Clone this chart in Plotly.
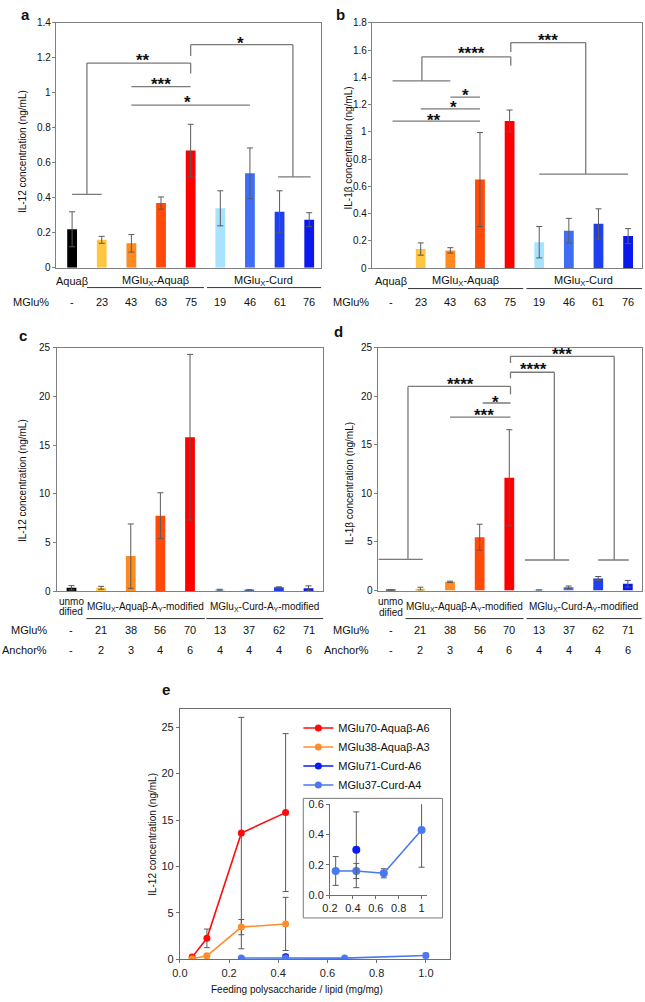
import plotly.graph_objects as go

W, H = 645, 1002
FONT = "Liberation Sans, Arial, sans-serif"


def fx(p):
    return p / W


def fy(p):
    return 1 - p / H


# ---------------- data ----------------
cats = list(range(9))
bar_colors = ["#000000", "#FFC640", "#FF8A1F", "#FF4A0A", "#FF0000",
              "#A8E2FF", "#3F6EF5", "#1F40F0", "#0A18EE"]

a_vals = [0.22, 0.16, 0.14, 0.37, 0.67, 0.34, 0.54, 0.32, 0.275]
a_errs = [0.10, 0.02, 0.05, 0.035, 0.15, 0.10, 0.145, 0.12, 0.04]
b_vals = [None, 0.14, 0.13, 0.65, 1.08, 0.19, 0.275, 0.325, 0.235]
b_errs = [None, 0.045, 0.02, 0.345, 0.08, 0.115, 0.09, 0.11, 0.055]
ab_mglu = ["-", "23", "43", "63", "75", "19", "46", "61", "76"]

c_vals = [0.35, 0.35, 3.6, 7.75, 15.8, 0.15, 0.1, 0.4, 0.3]
c_errs = [0.22, 0.15, 3.3, 2.35, 8.5, 0.05, 0.05, 0.05, 0.25]
d_vals = [0.05, 0.2, 0.9, 5.5, 11.6, 0.05, 0.35, 1.25, 0.7]
d_errs = [0.03, 0.15, 0.07, 1.33, 4.95, 0.03, 0.12, 0.2, 0.35]
cd_mglu = ["-", "21", "38", "56", "70", "13", "37", "62", "71"]
cd_anchor = ["-", "2", "3", "4", "6", "4", "4", "4", "6"]

a_ticks = [0, 0.2, 0.4, 0.6, 0.8, 1, 1.2, 1.4]
b_ticks = [0, 0.2, 0.4, 0.6, 0.8, 1, 1.2, 1.4, 1.6, 1.8]
cd_ticks = [0, 5, 10, 15, 20, 25]

# significance brackets: polylines (x list, y list) + star labels (x, y, text)
a_br_lines = [
    ([0, 1], [0.42, 0.42]),
    ([0.5, 0.5, 4, 4], [0.42, 1.17, 1.17, 1.11]),
    ([2, 4], [1.035, 1.035]),
    ([2, 6], [0.93, 0.93]),
    ([4, 4, 7.45, 7.45], [1.21, 1.275, 1.275, 0.52]),
    ([6.95, 8.05], [0.52, 0.52]),
]
a_br_text = [(2.4, 1.199, "**"), (3.0, 1.063, "***"), (3.9, 0.96, "*"), (5.67, 1.299, "*")]

b_br_lines = [
    ([0.05, 2], [1.374, 1.374]),
    ([1.04, 1.04, 4.04, 4.04], [1.374, 1.55, 1.55, 1.485]),
    ([4.04, 4.04, 6.57, 6.57], [1.586, 1.655, 1.655, 0.69]),
    ([5.0, 8.0], [0.69, 0.69]),
    ([2, 3], [1.255, 1.255]),
    ([1, 3], [1.168, 1.168]),
    ([0.05, 3], [1.078, 1.078]),
]
b_br_text = [(2.73, 1.599, "****"), (5.29, 1.69, "***"), (2.5, 1.292, "*"),
             (2.12, 1.2, "*"), (1.46, 1.103, "**")]

d_br_lines = [
    ([-0.42, 1.08], [3.22, 3.22]),
    ([0.58, 0.58, 4.04, 4.04], [3.22, 21.0, 21.0, 20.2]),
    ([3.1, 4.04], [19.3, 19.3]),
    ([2, 4.04], [17.85, 17.85]),
    ([4.04, 4.04, 5.52, 5.52], [21.85, 22.46, 22.46, 3.15]),
    ([4.53, 6.02], [3.15, 3.15]),
    ([4.04, 4.04, 7.54, 7.54], [23.4, 24.1, 24.1, 3.15]),
    ([7.0, 8.03], [3.15, 3.15]),
]
d_br_text = [(2.35, 21.5, "****"), (3.52, 19.7, "*"), (3.13, 18.36, "***"),
             (4.8, 23.0, "****"), (5.77, 24.6, "***")]

# panel e
e_x_a6 = [0.05, 0.11, 0.25, 0.43]
e_y_a6 = [0.25, 2.27, 13.6, 15.8]
e_err_a6 = [0.1, 1.0, 12.45, 8.5]
e_x_a3 = [0.05, 0.11, 0.25, 0.43]
e_y_a3 = [0.07, 0.39, 3.48, 3.82]
e_err_a3 = [0.05, 0.2, 0.82, 2.86]
e_x_c6 = [0.43]
e_y_c6 = [0.30]
e_err_c6 = [0.25]
e_x_c4 = [0.25, 0.43, 0.67, 1.0]
e_y_c4 = [0.16, 0.16, 0.145, 0.43]
e_err_c4 = [0.095, 0.05, 0.03, 0.245]

# ---------------- figure ----------------
fig = go.Figure()
ERR = dict(type="data", color="#5a5a5a", thickness=1, width=3, visible=True)


def add_bars(vals, errs, n):
    fig.add_trace(go.Bar(
        x=cats, y=vals, width=0.33, marker=dict(color=bar_colors, line=dict(width=0)),
        error_y=dict(array=errs, **ERR), showlegend=False,
        xaxis=f"x{n}" if n > 1 else "x", yaxis=f"y{n}" if n > 1 else "y"))


add_bars(a_vals, a_errs, 1)
add_bars(b_vals, b_errs, 2)
add_bars(c_vals, c_errs, 3)
add_bars(d_vals, d_errs, 4)

series_e = [
    ("MGlu70-Aquaβ-A6", e_x_a6, e_y_a6, e_err_a6, "#FF0A0A"),
    ("MGlu38-Aquaβ-A3", e_x_a3, e_y_a3, e_err_a3, "#FF8C2A"),
    ("MGlu71-Curd-A6", e_x_c6, e_y_c6, e_err_c6, "#0A1CF5"),
    ("MGlu37-Curd-A4", e_x_c4, e_y_c4, e_err_c4, "#4A78F2"),
]
for name, xs, ys, es, col in series_e:
    fig.add_trace(go.Scatter(
        x=xs, y=ys, name=name, mode="lines+markers",
        line=dict(color=col, width=1.6), marker=dict(color=col, size=7),
        error_y=dict(array=es, **ERR), xaxis="x5", yaxis="y5"))
for name, xs, ys, es, col in series_e[2:][::-1]:
    fig.add_trace(go.Scatter(
        x=xs, y=ys, name=name, mode="lines+markers", showlegend=False,
        line=dict(color=col, width=1.6), marker=dict(color=col, size=8),
        error_y=dict(array=es, **ERR), xaxis="x6", yaxis="y6"))

AX = "#808080"


def bar_axes(n, xpx, ypx, xr, yr):
    xa = dict(domain=[fx(xpx[0]), fx(xpx[1])], range=xr, showline=True, linecolor=AX,
              linewidth=1, mirror=True, showticklabels=False, ticks="", showgrid=False,
              zeroline=False, anchor="y" if n == 1 else f"y{n}")
    ya = dict(domain=[fy(ypx[1]), fy(ypx[0])], range=yr, showline=True,
              linecolor=AX, linewidth=1, mirror=True, ticks="outside", ticklen=3,
              tickcolor=AX, showgrid=False, zeroline=False, showticklabels=False,
              tickmode="array", anchor="x" if n == 1 else f"x{n}")
    return xa, ya


xa1, ya1 = bar_axes(1, (49, 317), (17, 265), [-0.53, 8.4], [0, 1.4])
xa2, ya2 = bar_axes(2, (369, 642), (17, 265.3), [-0.63, 8.47], [0, 1.8])
xa3, ya3 = bar_axes(3, (49.3, 319.3), (345.7, 592.3), [-0.5, 8.5], [0, 25])
xa4, ya4 = bar_axes(4, (375, 641.7), (345.7, 591.7), [-0.42, 8.47], [0, 25])
ya1["tickvals"] = a_ticks
ya2["tickvals"] = b_ticks
ya3["tickvals"] = cd_ticks
ya4["tickvals"] = cd_ticks

xa5 = dict(domain=[fx(174), fx(448)], range=[0, 1.1], dtick=0.2, tickformat=".1f",
           showline=True, linecolor="#6e6e6e", mirror=True, ticks="outside", ticklen=3,
           tickcolor="#6e6e6e", showgrid=False, zeroline=False,
           tickfont=dict(size=11, color="#222"), anchor="y5")
ya5 = dict(domain=[fy(965), fy(712)], range=[0, 26.9], dtick=5, showline=True,
           linecolor="#6e6e6e", mirror=True, ticks="outside", ticklen=3,
           tickcolor="#6e6e6e", showgrid=False, zeroline=False,
           tickfont=dict(size=11, color="#222"), anchor="x5")
xa6 = dict(domain=[fx(326), fx(424)], range=[0.2, 1.045], dtick=0.2, showline=True,
           linecolor="#6e6e6e", ticks="outside", ticklen=3, tickcolor="#6e6e6e",
           showgrid=False, zeroline=False, tickfont=dict(size=11, color="#222"),
           anchor="y6")
ya6 = dict(domain=[fy(900), fy(808)], range=[0, 0.6], dtick=0.2, tickformat=".1f",
           showline=True, linecolor="#6e6e6e", ticks="outside", ticklen=3,
           tickcolor="#6e6e6e", showgrid=False, zeroline=False,
           tickfont=dict(size=11, color="#222"), anchor="x6")

shapes = []
annotations = []


def line(xs, ys, xref, yref, color="#7a7a7a", width=1.3):
    for i in range(len(xs) - 1):
        shapes.append(dict(type="line", xref=xref, yref=yref, x0=xs[i], x1=xs[i + 1],
                           y0=ys[i], y1=ys[i + 1], line=dict(color=color, width=width)))


def txt(x, y, text, xref, yref, size=11, weight="normal", xanchor="center",
        yanchor="middle", **kw):
    annotations.append(dict(x=x, y=y, xref=xref, yref=yref, text=text, showarrow=False,
                            xanchor=xanchor, yanchor=yanchor,
                            font=dict(size=size, color="#111", family=FONT, weight=weight),
                            **kw))


# y tick labels for bar panels
for n, ticks, axpx in [(1, a_ticks, 49), (2, b_ticks, 369), (3, cd_ticks, 49.3),
                       (4, cd_ticks, 375)]:
    yr = "y" if n == 1 else f"y{n}"
    for t in ticks:
        txt(fx(axpx - 3.5), t, f"{t:g}", "paper", yr, size=10, xanchor="right")

# brackets
for n, lines_, texts in [(1, a_br_lines, a_br_text), (2, b_br_lines, b_br_text),
                         (4, d_br_lines, d_br_text)]:
    xr = "x" if n == 1 else f"x{n}"
    yr = "y" if n == 1 else f"y{n}"
    for xs, ys in lines_:
        line(xs, ys, xr, yr)
    for x, y, t in texts:
        txt(x, y, t, xr, yr, size=17, weight="bold", yshift=-3)

# category labels a, b
for n, grp_pos, row_lab_x in [(1, (0.0, 2.8, 6.46), 3), (2, (0.0, 2.52, 6.5), 327)]:
    xr = "x" if n == 1 else f"x{n}"
    txt(grp_pos[0], fy(278), "Aquaβ", xr, "paper")
    txt(grp_pos[1], fy(278), "MGlu<sub>X</sub>-Aquaβ", xr, "paper")
    txt(grp_pos[2], fy(278), "MGlu<sub>X</sub>-Curd", xr, "paper")
    for i, lab in enumerate(ab_mglu):
        txt(i, fy(300), lab, xr, "paper")
    txt(fx(row_lab_x), fy(300), "MGlu%", "paper", "paper", xanchor="left")
line([0.5, 4.45], [fy(285)] * 2, "x", "paper", color="#333", width=1)
line([4.55, 8.5], [fy(285)] * 2, "x", "paper", color="#333", width=1)
line([0.57, 4.46], [fy(286)] * 2, "x2", "paper", color="#333", width=1)
line([4.57, 8.57], [fy(286)] * 2, "x2", "paper", color="#333", width=1)

# category labels c, d
for n, rx, dy in [(3, 42, 613.3), (4, 368, 614)]:
    xr = f"x{n}"
    txt(0, fy(602.7), "unmo", xr, "paper", size=10)
    txt(0, fy(dy), "dified", xr, "paper", size=10)
    txt(2.5, fy(608.3), "MGlu<sub>X</sub>-Aquaβ-A<sub>Y</sub>-modified", xr, "paper", size=10)
    txt(6.5, fy(608.3), "MGlu<sub>X</sub>-Curd-A<sub>Y</sub>-modified", xr, "paper", size=10)
    for i, lab in enumerate(cd_mglu):
        txt(i, fy(631.7), lab, xr, "paper")
    for i, lab in enumerate(cd_anchor):
        txt(i, fy(651.7), lab, xr, "paper")
    txt(fx(rx), fy(631.7), "MGlu%", "paper", "paper", xanchor="right")
    txt(fx(rx), fy(651.7), "Anchor%", "paper", "paper", xanchor="right")
line([0.5, 4.5], [fy(620)] * 2, "x3", "paper", color="#333", width=1)
line([4.55, 8.5], [fy(620)] * 2, "x3", "paper", color="#333", width=1)
line([0.5, 4.48], [fy(620)] * 2, "x4", "paper", color="#333", width=1)
line([4.58, 8.52], [fy(620)] * 2, "x4", "paper", color="#333", width=1)

# axis titles
for x, y, t in [(14, 147, "IL-12 concentration (ng/mL)"),
                (344.5, 144, "IL-1β concentration (ng/mL)"),
                (14, 480, "IL-12 concentration (ng/mL)"),
                (345, 483, "IL-1β concentration (ng/mL)"),
                (146.7, 838, "IL-12 concentration (ng/mL)")]:
    txt(fx(x), fy(y), t, "paper", "paper", size=10, textangle=-90)
txt(fx(293), fy(995), "Feeding polysaccharide / lipid (mg/mg)", "paper", "paper", size=10)

# panel letters
for x, y, t in [(18, 9, "a"), (337, 9, "b"), (15, 334, "c"), (335, 329, "d"), (160, 692, "e")]:
    txt(fx(x), fy(y), t, "paper", "paper", size=15, weight="bold")

# inset frame
shapes.append(dict(type="rect", xref="paper", yref="paper", x0=fx(299), x1=fx(440),
                   y0=fy(923), y1=fy(802), line=dict(color="#7a7a7a", width=1),
                   fillcolor="rgba(0,0,0,0)", layer="below"))

fig.update_layout(
    width=W, height=H, margin=dict(l=0, r=0, t=0, b=0),
    paper_bgcolor="white", plot_bgcolor="rgba(0,0,0,0)",
    font=dict(family=FONT, size=11, color="#111"),
    xaxis=xa1, yaxis=ya1, xaxis2=xa2, yaxis2=ya2, xaxis3=xa3, yaxis3=ya3,
    xaxis4=xa4, yaxis4=ya4, xaxis5=xa5, yaxis5=ya5, xaxis6=xa6, yaxis6=ya6,
    shapes=shapes, annotations=annotations,
    legend=dict(x=fx(294), y=fy(716), xanchor="left", yanchor="top",
                bgcolor="rgba(0,0,0,0)", font=dict(size=11, family=FONT),
                tracegroupgap=0, itemwidth=30),
    showlegend=True,
)

fig.write_html("out.html")
